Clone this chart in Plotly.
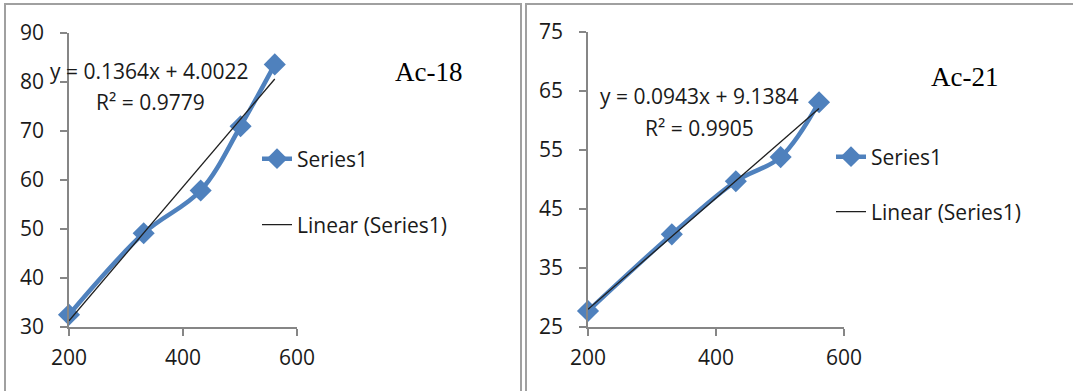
import plotly.graph_objects as go

# ---- data ----
x_vals = [200, 331, 431, 501, 561]
ac18_y = [32.5, 49.1, 57.8, 70.9, 83.5]
ac21_y = [27.7, 40.7, 49.7, 53.8, 63.1]
ac18_fit = {"slope": 0.1364, "intercept": 4.0022, "r2": 0.9779}
ac21_fit = {"slope": 0.0943, "intercept": 9.1384, "r2": 0.9905}
titles = ["Ac-18", "Ac-21"]
series_name = "Series1"
trend_name = "Linear (Series1)"

W, H = 1073, 391
BLUE = "#4F81BD"
AXC = "#868686"
TXT = "#1a1a1a"
FONT = "Open Sans"

def px(v):
    return v / W

def py(v):
    return 1 - v / H

fig = go.Figure()

panels = [
    dict(y=ac18_y, fit=ac18_fit, xa="x", ya="y", leg=("legend", "legend2")),
    dict(y=ac21_y, fit=ac21_fit, xa="x2", ya="y2", leg=("legend3", "legend4")),
]

for p in panels:
    fig.add_trace(go.Scatter(
        x=x_vals, y=p["y"], mode="lines+markers", name=series_name,
        line=dict(color=BLUE, width=4.5, shape="spline", smoothing=1),
        marker=dict(symbol="diamond", size=17, color=BLUE),
        xaxis=p["xa"], yaxis=p["ya"], legend=p["leg"][0], cliponaxis=False,
    ))
    xs = [min(x_vals), max(x_vals)]
    ys = [p["fit"]["slope"] * v + p["fit"]["intercept"] for v in xs]
    fig.add_trace(go.Scatter(
        x=xs, y=ys, mode="lines", name=trend_name,
        line=dict(color="#1f1f1f", width=1.3),
        xaxis=p["xa"], yaxis=p["ya"], legend=p["leg"][1], cliponaxis=False,
    ))

axis_common = dict(
    showline=True, linecolor=AXC, linewidth=1.5, ticks="outside", ticklen=7,
    tickcolor=AXC, tickwidth=1.5, showgrid=False, zeroline=False, automargin=False,
    tickfont=dict(family=FONT, size=21, color=TXT),
)
xaxis_common = dict(axis_common, ticklabelstandoff=4)
yaxis_common = dict(axis_common, ticklabelstandoff=12)

fig.update_layout(
    width=W, height=H, margin=dict(l=0, r=0, t=0, b=0, autoexpand=False),
    paper_bgcolor="white", plot_bgcolor="white", showlegend=True,
    xaxis=dict(domain=[px(69), px(297)], range=[200, 600], dtick=200, anchor="y", **xaxis_common),
    yaxis=dict(domain=[py(327), py(32.5)], range=[30, 90], dtick=10, anchor="x", **yaxis_common),
    xaxis2=dict(domain=[px(588), px(844)], range=[200, 600], dtick=200, anchor="y2", **xaxis_common),
    yaxis2=dict(domain=[py(327), py(32)], range=[25, 75], tick0=25, dtick=10, anchor="x2", **yaxis_common),
)

leg_font = dict(family=FONT, size=21, color=TXT)
leg_pos = {"legend": (257, 159), "legend2": (257, 225), "legend3": (831, 157), "legend4": (831, 212)}
for k, (lx, ly) in leg_pos.items():
    fig.update_layout({k: dict(x=px(lx), y=py(ly), xanchor="left", yanchor="middle",
                               xref="paper", yref="paper", font=leg_font,
                               bgcolor="rgba(0,0,0,0)", borderwidth=0)})

# panel borders
for x0, x1 in [(5, 521), (526, 1080)]:
    fig.add_shape(type="rect", xref="paper", yref="paper",
                  x0=px(x0), x1=px(x1), y0=py(400), y1=py(4),
                  line=dict(color="#A0A0A0", width=2), fillcolor="rgba(0,0,0,0)", layer="below")

# equations, R2 and titles
ann = [
    (149, 71, f"y = {ac18_fit['slope']}x + {ac18_fit['intercept']}"),
    (150, 102, f"R² = {ac18_fit['r2']}"),
    (699, 96, f"y = {ac21_fit['slope']}x + {ac21_fit['intercept']}"),
    (699, 128, f"R² = {ac21_fit['r2']}"),
]
for ax_, ay_, t in ann:
    fig.add_annotation(x=px(ax_), y=py(ay_), xref="paper", yref="paper", text=t,
                       showarrow=False, xanchor="center", yanchor="middle",
                       font=dict(family=FONT, size=21, color=TXT))
for (ax_, ay_), t in zip([(428, 72), (964, 77)], titles):
    fig.add_annotation(x=px(ax_), y=py(ay_), xref="paper", yref="paper", text=t,
                       showarrow=False, xanchor="center", yanchor="middle",
                       font=dict(family="Liberation Serif", size=27, color="#000000"))

fig.write_html(
    "out.html",
    config={"displayModeBar": False},
    post_script="document.body.style.margin='0';document.body.style.overflow='hidden';",
)
